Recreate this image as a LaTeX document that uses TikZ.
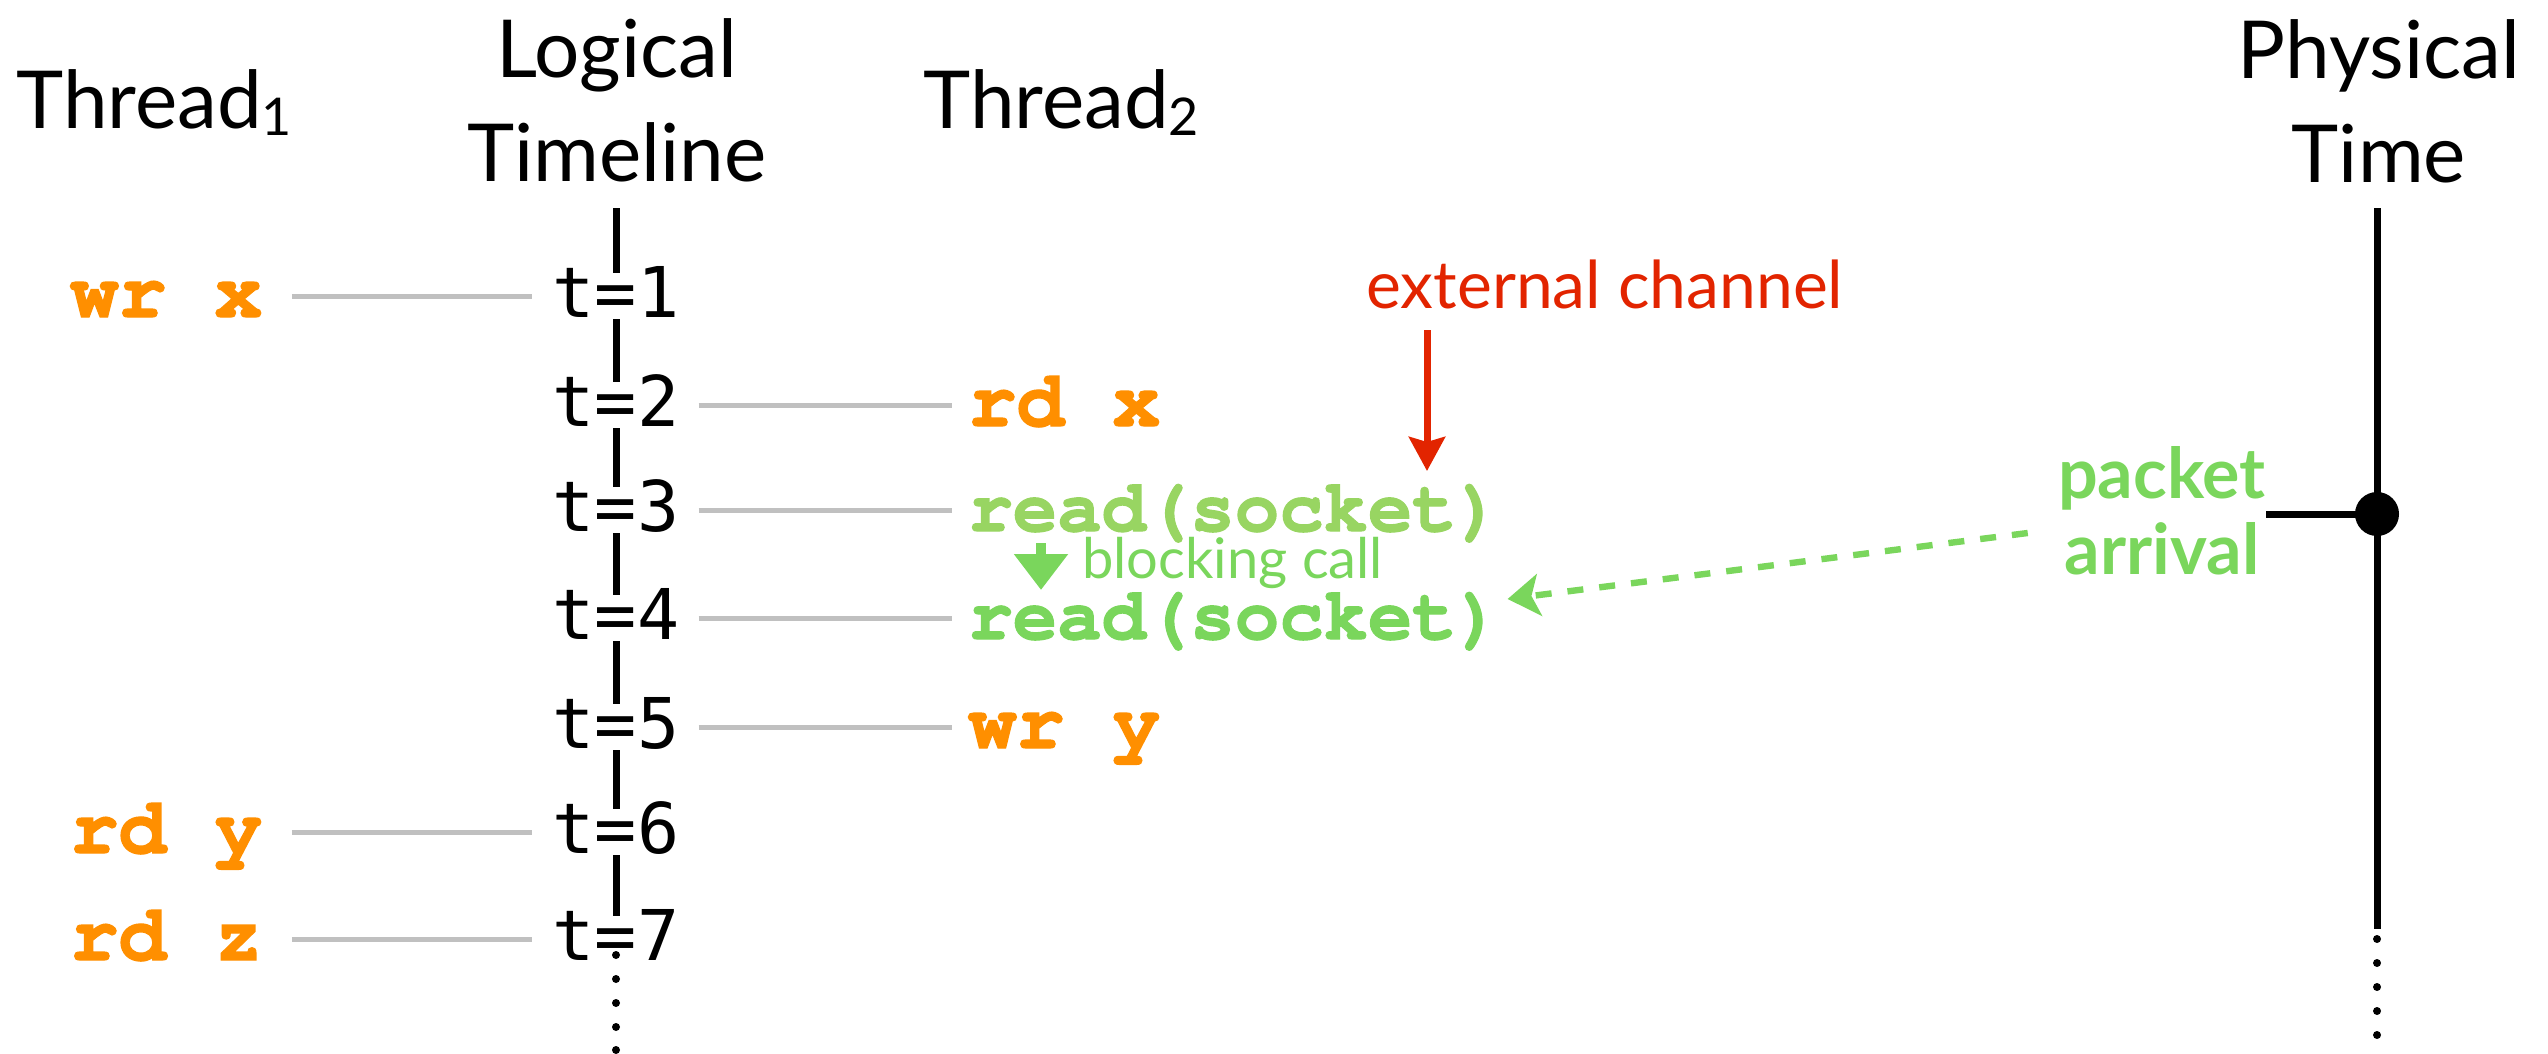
\documentclass[tikz,border=0pt]{standalone}
\usepackage{fontspec}
\setmainfont{Lato}
\newfontfamily\tmono{DejaVu Sans Mono}
\newfontfamily\cour{texgyrecursor}[Extension=.otf, UprightFont=*-regular, BoldFont=*-bold, BoldFeatures={FakeBold=1.6}]
\usetikzlibrary{arrows.meta,calc}
\definecolor{orng}{RGB}{255,143,0}
\definecolor{grnA}{RGB}{152,213,98}
\definecolor{grnB}{RGB}{122,214,92}
\definecolor{redc}{RGB}{226,36,0}
\definecolor{linegray}{RGB}{192,192,192}
\pgfdeclarelayer{bg}
\pgfsetlayers{bg,main}
\begin{document}
\begin{tikzpicture}[x=0.5pt,y=-0.5pt,
  hdr/.style={font=\fontsize{40}{52}\selectfont, inner sep=0pt, align=center},
  tlab/.style={font=\tmono\fontsize{35}{35}\selectfont, fill=white, inner sep=0pt, text height=22pt, text depth=1pt},
  op/.style={font=\cour\bfseries\fontsize{40}{40}\selectfont, text=orng, inner sep=0pt, text height=22pt, text depth=1pt},
  sock/.style={font=\cour\bfseries\fontsize{37}{37}\selectfont, inner sep=0pt, text height=22pt, text depth=1pt},
  glinkL/.style={draw=linegray, line width=2.5pt, shorten <=14.5pt, shorten >=10pt},
  glinkR/.style={draw=linegray, line width=2.5pt, shorten <=9.5pt, shorten >=8pt},
  tline/.style={line width=3.5pt},
  tdot/.style={fill=black}
]
\useasboundingbox (0,0) rectangle (2548,1054);

% headers
\node[hdr, anchor=base west] (th1) at (16,128) {Thread\raisebox{-3.5pt}{\fontsize{26}{26}\selectfont 1}};
\node[hdr, anchor=north] (lt) at (617,18) {Logical\\Timeline};
\node[hdr, anchor=base west] (th2) at (923,128) {Thread\raisebox{-3.5pt}{\fontsize{26}{26}\selectfont 2}};
\node[hdr, anchor=north] (pt) at (2379,19) {Physical\\Time};

% logical time labels
\node[tlab] (t1) at (616,296) {t=1};
\node[tlab] (t2) at (616,405) {t=2};
\node[tlab] (t3) at (616,510) {t=3};
\node[tlab] (t4) at (616,618) {t=4};
\node[tlab] (t5) at (616,727) {t=5};
\node[tlab] (t6) at (616,832) {t=6};
\node[tlab] (t7) at (616,939) {t=7};

\coordinate (ltop) at (616,208);
\begin{pgfonlayer}{bg}
  \draw[tline] (ltop) -- (t7.center);
\end{pgfonlayer}
\foreach \yy in {955,979,1003,1027,1050} \fill[tdot] (616,\yy) circle[radius=4];

% thread 1 operations
\node[op, anchor=west] (wx) at (70,296) {wr x};
\node[op, anchor=west] (ry) at (70,832) {rd y};
\node[op, anchor=west] (rz) at (70,939) {rd z};
\draw[glinkL] (wx.east) -- (t1.west);
\draw[glinkL] (ry.east) -- (t6.west);
\draw[glinkL] (rz.east) -- (t7.west);

% thread 2 operations
\node[op, anchor=west] (rx) at (968,405) {rd x};
\node[sock, text=grnA, anchor=west] (r3) at (968,510) {read(socket)};
\node[sock, text=grnB, anchor=west] (r4) at (968,618) {read(socket)};
\node[op, anchor=west] (wy) at (968,727) {wr y};
\draw[glinkR] (t2.east) -- (rx.west);
\draw[glinkR] (t3.east) -- (r3.west);
\draw[glinkR] (t4.east) -- (r4.west);
\draw[glinkR] (t5.east) -- (wy.west);

% blocking call
\node[font=\fontsize{28}{28}\selectfont, text=grnB, inner sep=0pt, anchor=base west] (bc) at (1082,578) {blocking call};
\coordinate (ba1) at (1041,543);
\coordinate (ba2) at (1041,590);
\draw[grnB, line width=5pt, -{Triangle[width=26pt,length=18pt]}] (ba1) -- (ba2);

% external channel
\node[font=\fontsize{33}{33}\selectfont, text=redc, inner sep=0pt, anchor=base west] (ext) at (1366,308) {external channel};
\coordinate (ecs) at (1427,330);
\coordinate (ece) at (1427,471);
\draw[redc, line width=3.5pt, -{Stealth[width=18pt,length=17pt,inset=2.5pt]}] (ecs) -- (ece);

% physical time
\coordinate (ptop) at (2377,208);
\coordinate (pbot) at (2377,929);
\draw[tline] (ptop) -- (pbot);
\foreach \yy in {939,963,987,1011,1035} \fill[tdot] (2377,\yy) circle[radius=4];
\node[circle, fill=black, minimum size=22pt, inner sep=0pt] (dot) at (2377,514) {};
\node[font=\bfseries\fontsize{35}{38}\selectfont, text=grnB, align=center, inner sep=0pt] (pk) at (2162,511) {packet\\arrival};
\draw[line width=3.5pt] (pk.east |- dot.center) -- (dot.center);

\draw[grnB, line width=3.2pt, dash pattern=on 8pt off 8pt, -{Stealth[width=21pt,length=16pt,inset=4pt]}]
  ($(pk.west)+(-30,22)$) -- ($(r4.east)+(6,-19)$);
\end{tikzpicture}
\end{document}
